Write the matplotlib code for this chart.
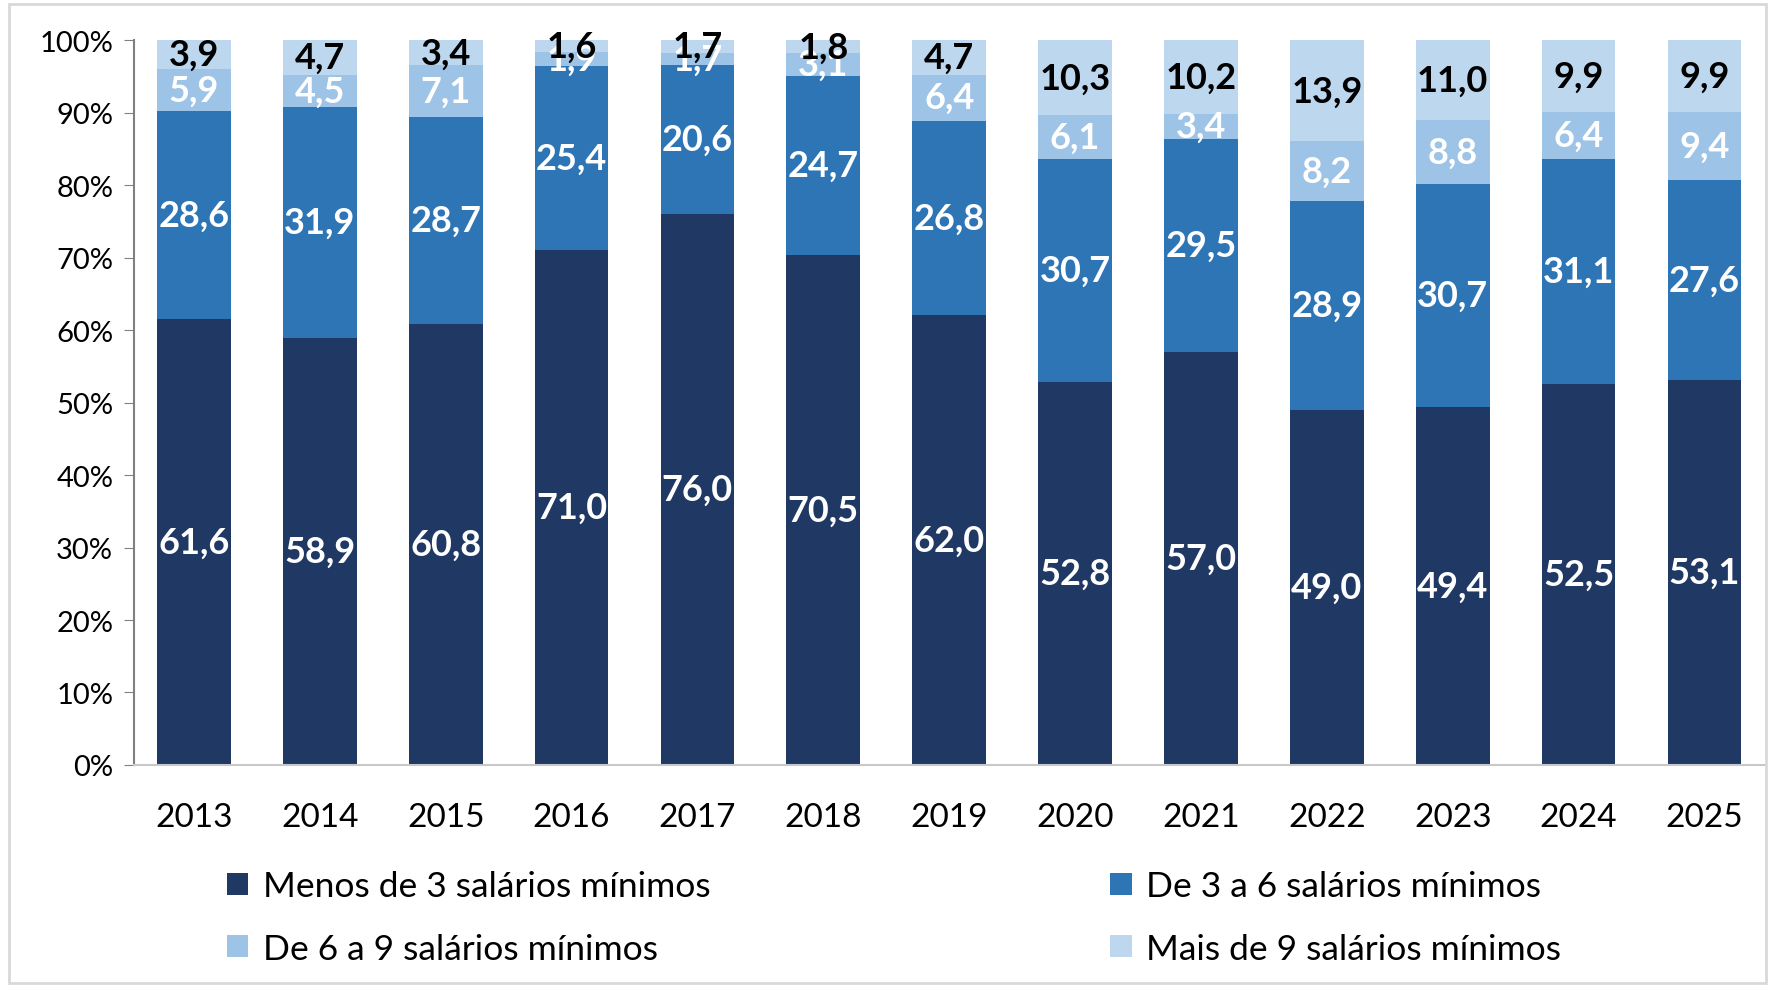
import numpy as np
import matplotlib.pyplot as plt
from matplotlib.patches import Rectangle

plt.rcParams['font.family'] = ['Lato', 'DejaVu Sans']

anos = ['2013', '2014', '2015', '2016', '2017', '2018', '2019',
        '2020', '2021', '2022', '2023', '2024', '2025']
menos3 = [61.6, 58.9, 60.8, 71.0, 76.0, 70.5, 62.0, 52.8, 57.0, 49.0, 49.4, 52.5, 53.1]
de3a6 = [28.6, 31.9, 28.7, 25.4, 20.6, 24.7, 26.8, 30.7, 29.5, 28.9, 30.7, 31.1, 27.6]
de6a9 = [5.9, 4.5, 7.1, 1.9, 1.7, 3.1, 6.4, 6.1, 3.4, 8.2, 8.8, 6.4, 9.4]
mais9 = [3.9, 4.7, 3.4, 1.6, 1.7, 1.8, 4.7, 10.3, 10.2, 13.9, 11.0, 9.9, 9.9]

series = [menos3, de3a6, de6a9, mais9]
nomes = ['Menos de 3 salários mínimos', 'De 3 a 6 salários mínimos',
         'De 6 a 9 salários mínimos', 'Mais de 9 salários mínimos']
cores = ['#1F3864', '#2E75B6', '#9DC3E6', '#BDD7EE']
cor_txt = ['white', 'white', 'white', 'black']

dados = np.array(series)
total = dados.sum(axis=0)
pct = dados / total * 100

fig = plt.figure(figsize=(17.75, 9.87), dpi=100)
ax = fig.add_axes([0.0755, 0.224, 0.9195, 0.734])

x = np.arange(len(anos))
base = np.zeros(len(anos))
barras = []
for i in range(4):
    b = ax.bar(x, pct[i], 0.585, bottom=base, color=cores[i], label=nomes[i])
    barras.append(b)
    for j in range(len(anos)):
        ax.text(x[j], base[j] + pct[i][j] / 2, f'{dados[i][j]:.1f}'.replace('.', ','),
                ha='center', va='center', color=cor_txt[i], fontsize=26,
                fontweight='bold')
    base = base + pct[i]

ax.set_xlim(-0.476, len(anos) - 1 + 0.49)
ax.set_ylim(0, 100)
ax.set_yticks(np.arange(0, 101, 10))
ax.set_yticklabels([f'{v}%' for v in range(0, 101, 10)])
ax.set_xticks(x)
ax.set_xticklabels(anos)
ax.tick_params(axis='y', labelsize=21, length=7, color='#808080', pad=8)
ax.tick_params(axis='x', labelsize=24, length=0, pad=27)
for s in ['top', 'right']:
    ax.spines[s].set_visible(False)
ax.spines['left'].set_color('#808080')
ax.spines['bottom'].set_color('#c8c8c8')
ax.spines['left'].set_linewidth(1.5)
ax.spines['bottom'].set_linewidth(1.5)

ordem = [0, 2, 1, 3]
fig.legend([barras[k] for k in ordem], [nomes[k] for k in ordem], ncol=2,
           loc='upper left', bbox_to_anchor=(0.118, 0.135), frameon=False,
           borderpad=0, fontsize=25.5, handlelength=0.6, handleheight=0.6,
           handletextpad=0.4, columnspacing=11.3, labelspacing=0.85)

fig.patches.append(Rectangle((0.005, 0.003), 0.99, 0.992, transform=fig.transFigure,
                             fill=False, edgecolor='#d9d9d9', linewidth=2))

fig.savefig('out.png', dpi=100)
